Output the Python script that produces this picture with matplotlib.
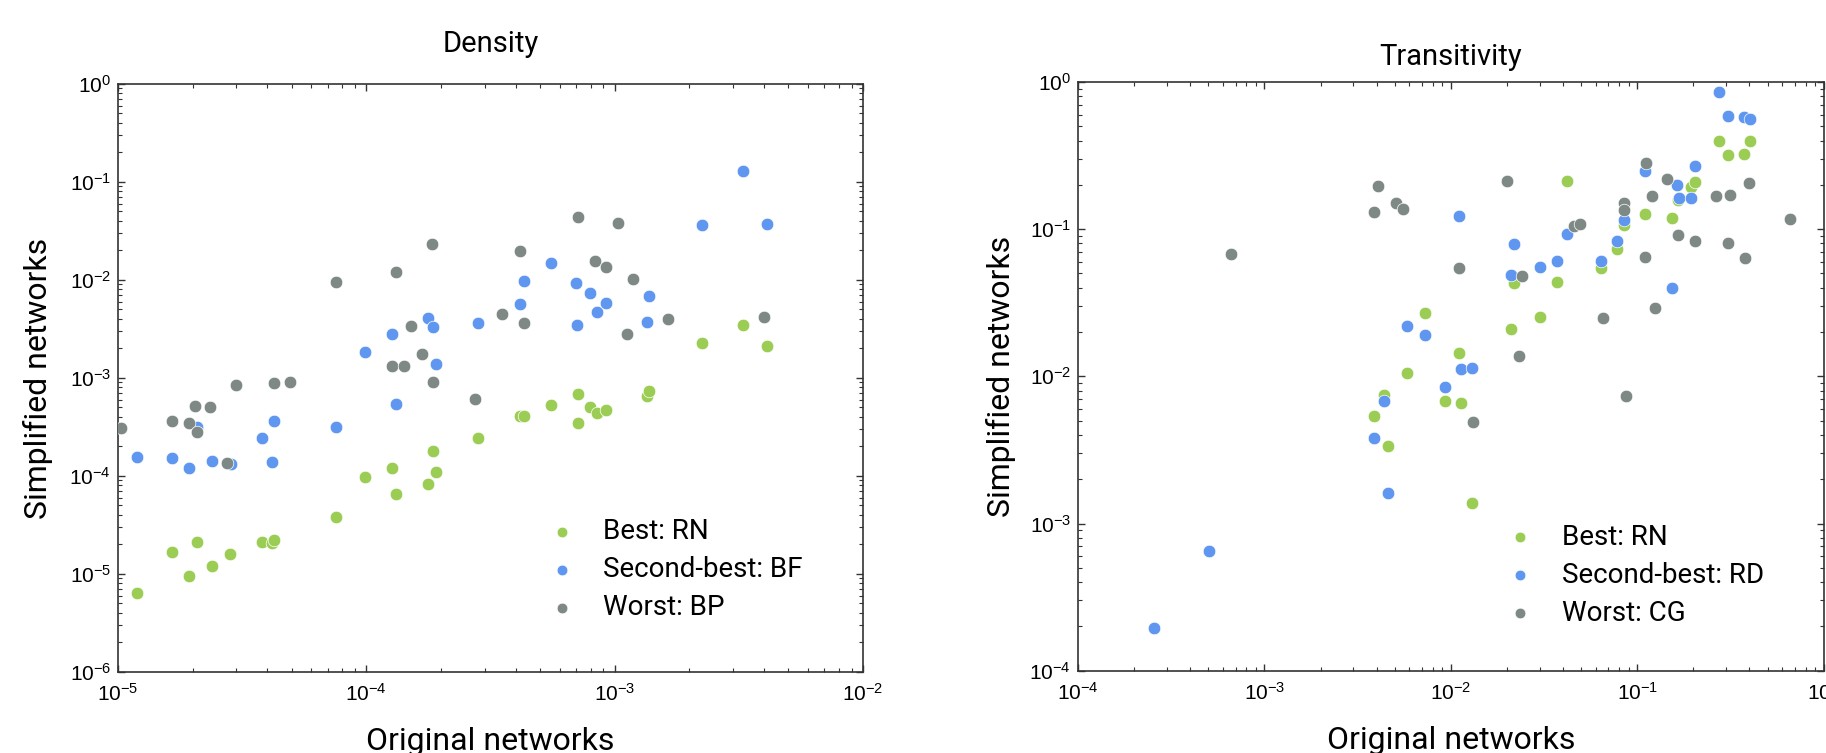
import numpy as np
import matplotlib
matplotlib.use("Agg")
import matplotlib.pyplot as plt

plt.rcParams['font.family'] = ['Liberation Sans', 'DejaVu Sans']
plt.rcParams['mathtext.fontset'] = 'custom'
plt.rcParams['mathtext.rm'] = 'Liberation Sans'
plt.rcParams['mathtext.it'] = 'Liberation Sans:italic'
plt.rcParams['mathtext.bf'] = 'Liberation Sans:bold'

LABEL_FONT = ['Roboto', 'DejaVu Sans']

# colours of the three methods
c_best = '#9bcd55'
c_second = '#5e96f0'
c_worst = '#7e8986'

# ---- Density panel ----
dens_best_x = [1.19e-5, 1.65e-5, 1.94e-5, 2.08e-5, 2.40e-5, 2.82e-5, 3.80e-5, 4.17e-5, 4.26e-5, 7.57e-5,
               9.84e-5, 1.27e-4, 1.32e-4, 1.78e-4, 1.85e-4, 1.91e-4, 2.82e-4, 4.17e-4, 4.32e-4, 5.52e-4,
               7.10e-4, 7.10e-4, 7.96e-4, 8.47e-4, 9.25e-4, 1.35e-3, 1.38e-3, 2.25e-3, 3.29e-3, 4.10e-3]
dens_best_y = [6.41e-6, 1.66e-5, 9.6e-6, 2.10e-5, 1.22e-5, 1.60e-5, 2.13e-5, 2.05e-5, 2.22e-5, 3.85e-5,
               9.8e-5, 1.22e-4, 6.6e-5, 8.2e-5, 1.81e-4, 1.10e-4, 2.43e-4, 4.07e-4, 4.05e-4, 5.36e-4,
               6.82e-4, 3.46e-4, 5.07e-4, 4.40e-4, 4.66e-4, 6.60e-4, 7.38e-4, 2.28e-3, 3.50e-3, 2.10e-3]

dens_second_x = [1.19e-5, 1.65e-5, 1.94e-5, 2.08e-5, 2.40e-5, 2.84e-5, 3.81e-5, 4.17e-5, 4.26e-5, 7.57e-5,
                 9.9e-5, 1.27e-4, 1.32e-4, 1.78e-4, 1.85e-4, 1.91e-4, 2.83e-4, 4.17e-4, 4.30e-4, 5.52e-4,
                 7.00e-4, 7.05e-4, 7.96e-4, 8.47e-4, 9.20e-4, 1.35e-3, 1.38e-3, 2.25e-3, 3.29e-3, 4.10e-3]
dens_second_y = [1.56e-4, 1.52e-4, 1.20e-4, 3.18e-4, 1.42e-4, 1.32e-4, 2.43e-4, 1.38e-4, 3.60e-4, 3.15e-4,
                 1.83e-3, 2.81e-3, 5.48e-4, 4.13e-3, 3.34e-3, 1.38e-3, 3.64e-3, 5.65e-3, 9.77e-3, 1.49e-2,
                 9.3e-3, 3.48e-3, 7.43e-3, 4.68e-3, 5.82e-3, 3.76e-3, 6.87e-3, 3.61e-2, 1.29e-1, 3.76e-2]

dens_worst_x = [1.03e-5, 1.65e-5, 1.94e-5, 2.05e-5, 2.08e-5, 2.34e-5, 2.75e-5, 2.99e-5, 4.26e-5, 4.92e-5,
                7.57e-5, 1.27e-4, 1.32e-4, 1.42e-4, 1.51e-4, 1.67e-4, 1.84e-4, 1.85e-4, 2.75e-4, 3.53e-4,
                4.17e-4, 4.30e-4, 7.10e-4, 8.36e-4, 9.20e-4, 1.03e-3, 1.125e-3, 1.19e-3, 1.645e-3, 3.98e-3]
dens_worst_y = [3.08e-4, 3.66e-4, 3.48e-4, 5.19e-4, 2.78e-4, 5.07e-4, 1.37e-4, 8.49e-4, 8.97e-4, 9.04e-4,
                9.6e-3, 1.32e-3, 1.22e-2, 1.34e-3, 3.42e-3, 1.74e-3, 2.31e-2, 9.1e-4, 6.07e-4, 4.47e-3,
                1.98e-2, 3.64e-3, 4.43e-2, 1.55e-2, 1.35e-2, 3.82e-2, 2.79e-3, 1.02e-2, 4.03e-3, 4.16e-3]

# ---- Transitivity panel ----
tran_best_x = [3.87e-3, 4.39e-3, 4.58e-3, 5.79e-3, 7.25e-3, 9.33e-3, 1.104e-2, 1.137e-2, 1.30e-2, 2.11e-2,
               2.19e-2, 2.99e-2, 3.72e-2, 4.20e-2, 6.43e-2, 7.83e-2, 8.48e-2, 0.110, 0.1535, 0.166,
               0.194, 0.203, 0.273, 0.306, 0.374, 0.402]
tran_best_y = [5.41e-3, 7.43e-3, 3.38e-3, 1.054e-2, 2.68e-2, 6.76e-3, 1.433e-2, 6.6e-3, 1.37e-3, 2.10e-2,
               4.31e-2, 2.55e-2, 4.36e-2, 0.214, 5.43e-2, 7.35e-2, 0.106, 0.1265, 0.1194, 0.157,
               0.194, 0.208, 0.395, 0.319, 0.326, 0.399]

tran_second_x = [2.54e-4, 5.06e-4, 3.87e-3, 4.39e-3, 4.58e-3, 5.79e-3, 7.25e-3, 9.33e-3, 1.104e-2, 1.137e-2,
                 1.30e-2, 2.11e-2, 2.19e-2, 2.99e-2, 3.72e-2, 4.20e-2, 6.43e-2, 7.83e-2, 8.48e-2, 0.110,
                 0.1535, 0.163, 0.167, 0.194, 0.204, 0.273, 0.306, 0.374, 0.402]
tran_second_y = [1.95e-4, 6.49e-4, 3.84e-3, 6.8e-3, 1.62e-3, 2.20e-2, 1.91e-2, 8.46e-3, 0.122, 1.116e-2,
                 1.134e-2, 4.89e-2, 7.95e-2, 5.51e-2, 6.09e-2, 9.34e-2, 6.06e-2, 8.37e-2, 0.116, 0.248,
                 3.97e-2, 0.200, 0.164, 0.162, 0.270, 0.851, 0.590, 0.575, 0.563]

tran_worst_x = [6.6e-4, 3.86e-3, 4.08e-3, 5.07e-3, 5.55e-3, 1.104e-2, 1.313e-2, 2.00e-2, 2.33e-2, 2.40e-2,
                4.60e-2, 4.94e-2, 6.52e-2, 8.48e-2, 8.48e-2, 8.69e-2, 0.110, 0.112, 0.120, 0.1245,
                0.145, 0.165, 0.204, 0.264, 0.306, 0.316, 0.378, 0.400, 0.659]
tran_worst_y = [6.73e-2, 0.131, 0.195, 0.151, 0.137, 5.49e-2, 4.87e-3, 0.211, 1.383e-2, 4.79e-2,
                0.1054, 0.109, 2.49e-2, 0.1496, 0.1346, 7.4e-3, 6.45e-2, 0.280, 0.1686, 2.92e-2,
                0.220, 9.2e-2, 8.28e-2, 0.1686, 8.03e-2, 0.171, 6.42e-2, 0.2056, 0.118]

panels = [
    dict(title='Density', rect=[0.0646, 0.1076, 0.4080, 0.7809], xlim=(1e-5, 1e-2), ylim=(1e-6, 1e0),
         best=(dens_best_x, dens_best_y), second=(dens_second_x, dens_second_y),
         worst=(dens_worst_x, dens_worst_y),
         labels=['Best: RN', 'Second-best: BF', 'Worst: BP'], titlepad=23, ylpad=12, leg=(0.577, 0.262)),
    dict(title='Transitivity', rect=[0.5904, 0.1093, 0.4083, 0.7818], xlim=(1e-4, 1e0), ylim=(1e-4, 1e0),
         best=(tran_best_x, tran_best_y), second=(tran_second_x, tran_second_y),
         worst=(tran_worst_x, tran_worst_y),
         labels=['Best: RN', 'Second-best: RD', 'Worst: CG'], titlepad=12, ylpad=10, leg=(0.574, 0.250)),
]

fig = plt.figure(figsize=(18.26, 7.53), dpi=100)

for p in panels:
    ax = fig.add_axes(p['rect'])
    ax.set_xscale('log')
    ax.set_yscale('log')
    ms = 82
    ax.scatter(*p['best'], s=ms, color=c_best, edgecolors='white', linewidths=0.5, label=p['labels'][0], zorder=3)
    ax.scatter(*p['second'], s=ms, color=c_second, edgecolors='white', linewidths=0.5, label=p['labels'][1], zorder=4)
    ax.scatter(*p['worst'], s=ms, color=c_worst, edgecolors='white', linewidths=0.5, label=p['labels'][2], zorder=5)
    ax.set_xlim(*p['xlim'])
    ax.set_ylim(*p['ylim'])

    for sp in ax.spines.values():
        sp.set_linewidth(1.2)
        sp.set_color('#333333')
    ax.tick_params(which='both', direction='in', top=True, right=True, color='#333333')
    ax.tick_params(which='major', length=5, width=1.0, labelsize=15)
    ax.tick_params(which='minor', length=3, width=0.8)
    ax.tick_params(axis='x', which='major', pad=8)
    ax.tick_params(axis='y', which='major', pad=5)

    ax.set_title(p['title'], family=LABEL_FONT, fontsize=21, pad=p['titlepad'])
    ax.set_xlabel('Original networks', family=LABEL_FONT, fontsize=23, labelpad=16)
    ax.set_ylabel('Simplified networks', family=LABEL_FONT, fontsize=23, labelpad=p['ylpad'])

    leg = ax.legend(loc='upper left', bbox_to_anchor=p['leg'], frameon=False, scatterpoints=1,
                    prop={'family': LABEL_FONT, 'size': 20}, handlelength=1.0,
                    handletextpad=1.0, labelspacing=0.4, borderpad=0, borderaxespad=0, markerscale=0.85)

fig.savefig('out.png', dpi=100)
